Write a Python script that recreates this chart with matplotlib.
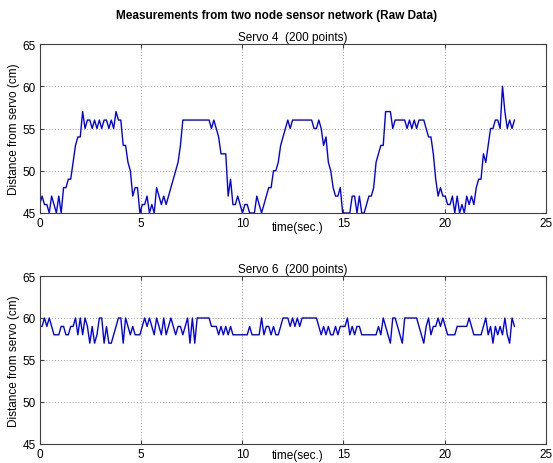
import numpy as np
import matplotlib
matplotlib.use('Agg')
import matplotlib.pyplot as plt

# ── Data (raw readings, 200 samples each) ─────────────────────────────────────
SAMPLE_PERIOD = 0.1178   # seconds between samples

servo4 = [46, 47, 46, 46, 45, 47, 46, 45, 47, 45,
          48, 48, 49, 49, 51, 53, 54, 54,
          57,
          55, 56, 56, 55, 56, 55, 56, 55, 56, 56, 55, 56,
          55, 57, 56, 56, 53, 53, 51, 50, 47, 48, 48, 45,
          46, 46, 47, 45, 46, 45, 48, 47, 46, 47, 46, 47,
          48, 49, 50, 51, 53, 56,
          56, 56, 56, 56, 56, 56, 56, 56, 56, 56, 56,
          55, 56, 55, 54, 52, 52, 52, 47, 49, 46, 46, 47, 46,
          45, 46, 46, 45, 45, 45, 47, 46, 45, 46, 47,
          48, 48, 50, 50, 51, 53, 54, 55, 56, 55, 56,
          56, 56, 56, 56, 56, 56, 56, 56,
          55, 55, 56, 55, 53, 54, 51, 50, 48, 47, 47, 48,
          45, 45, 45, 45, 47, 47, 45, 47, 45, 45, 46, 47, 47, 48,
          51, 52, 53, 53, 57, 57, 57, 55, 56, 56, 56, 56, 56,
          55, 56, 55, 56, 55, 56, 56, 56,
          55, 54, 54, 52, 49, 47, 48, 47, 47, 46, 46, 47,
          45, 47, 45, 46, 45, 47, 46, 47, 46, 48, 49, 49,
          52, 51, 53, 55, 55, 56, 56, 55, 60, 57, 55, 56, 55, 56]

servo6 = [59, 59, 60, 59, 60, 59, 58, 58, 58, 59,
          59, 58, 58, 59, 59, 60, 58, 60, 58, 60,
          59, 57, 59, 57, 58, 60, 60, 57, 59, 57,
          57, 58, 59, 60, 60, 57, 60, 59, 58, 59,
          58, 58, 58, 59, 60, 59, 60, 59, 58, 60,
          59, 58, 60, 58, 59, 60, 59, 58, 59, 59,
          58, 59, 60, 57, 60, 57, 60, 60, 60, 60,
          60, 60, 59, 59, 59, 58, 59, 58, 59, 58,
          59, 58, 58, 58, 58, 58, 58, 58, 59, 58,
          58, 58, 58, 60, 58, 59, 59, 58, 59, 58,
          58, 59, 60, 60, 60, 59, 60, 59, 60, 59,
          60, 60, 60, 60, 60, 60, 60, 59, 58, 59,
          58, 59, 58, 58, 59, 58, 59, 59, 59, 60,
          58, 59, 58, 59, 59, 58, 58, 58, 58, 58,
          58, 58, 59, 58, 60, 59, 58, 57, 60, 60,
          59, 58, 57, 60, 60, 60, 60, 60, 60, 59,
          58, 57, 59, 60, 58, 59, 59, 60, 59, 60,
          59, 58, 58, 58, 58, 59, 59, 59, 59, 59,
          60, 59, 58, 58, 58, 58, 59, 60, 58, 59,
          57, 59, 58, 59, 58, 60, 58, 57, 60, 59]

panel_titles = ['Servo 4  (200 points)', 'Servo 6  (200 points)']
x_ticks = [0, 5, 10, 15, 20, 25]
y_ticks = [45, 50, 55, 60, 65]

LINE = '#0000ee'
FRAME = '#404040'
GRID = '#a0a0a0'
FONT = 'Liberation Sans'

plt.rcParams['font.family'] = FONT

fig = plt.figure(figsize=(5.53, 4.64), dpi=100, facecolor='white')
axes = [fig.add_axes([0.0718, 0.5388, 0.9155, 0.3642]),
        fig.add_axes([0.0718, 0.0410, 0.9155, 0.3620])]

fig.text(0.501, 0.965, 'Measurements from two node sensor network (Raw Data)',
         ha='center', va='center', fontsize=8.5, fontweight='bold')

for i, (ax, vals, title) in enumerate(zip(axes, [servo4, servo6], panel_titles)):
    t = np.arange(len(vals)) * SAMPLE_PERIOD
    ax.plot(t, vals, color=LINE, linewidth=1.0)
    ax.set_xlim(0, 25)
    ax.set_ylim(45, 65)
    ax.set_xticks(x_ticks)
    ax.set_yticks(y_ticks)
    ax.grid(True, linestyle=(0, (1, 2)), color=GRID, linewidth=0.7)
    ax.tick_params(direction='in', length=3, labelsize=8.5, pad=3,
                   top=True, right=True, color=FRAME)
    for s in ax.spines.values():
        s.set_color(FRAME)
        s.set_linewidth(0.8)
    ax.set_title(title, fontsize=8.5, pad=3)
    ax.set_xlabel('time(sec.)', fontsize=8.5)
    # bottom panel label squeezed closer to the ticks (figure edge)
    ax.xaxis.set_label_coords(0.51, -0.085 if i == 0 else -0.065)
    ax.xaxis.label.set_va('center')
    ax.set_ylabel('Distance from servo (cm)', fontsize=8.5, labelpad=2)

fig.savefig('out.png', dpi=100, facecolor='white')
